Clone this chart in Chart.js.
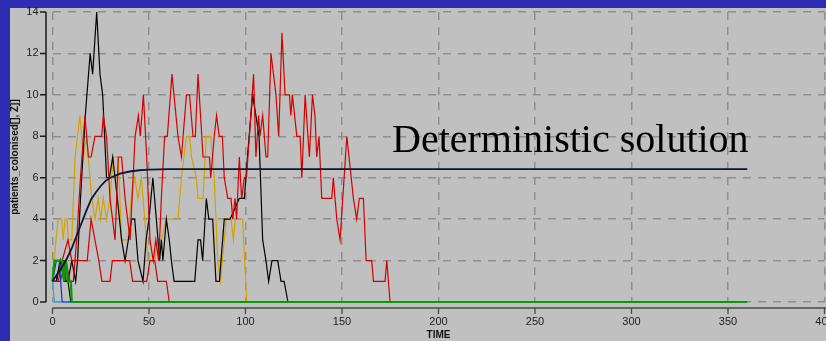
<!DOCTYPE html>
<html>
<head>
<meta charset="utf-8">
<script src="https://cdn.jsdelivr.net/npm/chart.js@4/dist/chart.umd.min.js"></script>
<style>
  html, body { margin: 0; padding: 0; background: #2d2db4; }
  #wrap { width: 826px; height: 341px; position: relative; }
</style>
</head>
<body>
<div id="wrap"><canvas id="simChart"></canvas></div>
<script>
// time axis ticks
const timeTicks = [0, 50, 100, 150, 200, 250, 300, 350, 400];
const countTicks = [0, 2, 4, 6, 8, 10, 12, 14];

// deterministic (ODE) solution
const detT = [0, 2.5, 5, 7.5, 10, 12.5, 15, 17.5, 20, 22.5, 25, 27.5, 30, 35, 40, 45, 50, 60, 360];
const detV = [1, 1.35, 1.7, 2.1, 2.6, 3.2, 3.8, 4.4, 4.95, 5.3, 5.6, 5.85, 6.0, 6.2, 6.3, 6.36, 6.39, 6.41, 6.41];

// stochastic runs
const redLongT = [0, 4, 7, 9, 10.8, 12.5, 14.5, 16.8, 18.6, 20, 22, 25.5, 26.3, 28, 29.8, 32.4, 34.1, 35.8, 37.6, 40.2,
  42.8, 44.5, 45.5, 47.1, 48.8, 50.5, 52.2, 53.5, 55, 56.4, 58.1, 59.5, 61.9, 65, 66.8, 69.4, 71, 72.8, 74, 75.4,
  78, 81.3, 82, 83.8, 85, 86.4, 88, 89, 90.8, 92.5, 93.4, 94.6, 95.4, 96.8, 98, 99.4, 100.5, 102, 104.2, 105.4,
  106.8, 107.5, 108.9, 110.6, 111.5, 113.2, 115.8, 117.2, 118.9, 120.5, 122.8, 123.5, 124.3, 126.6, 128.3, 129.2,
  130.9, 133.1, 134.7, 136, 136.9, 138.1, 139.5, 144.7, 145.5, 147.3, 149, 152.5, 155.9, 157.6, 159, 161.1, 162.5,
  165.4, 166.3, 172.3, 173.2, 174.9];
const redLongV = [1, 1, 2, 1, 1, 3, 6, 9, 7, 7, 8, 8, 9, 8, 5, 3, 7, 7, 5, 3,
  8, 9, 8, 10, 7, 3, 2, 3, 2, 5, 8, 8, 11, 8, 7, 10, 10, 8, 8, 11,
  7, 7, 6, 8, 9, 8, 8, 6, 5, 5, 4, 5, 4, 7, 5, 6, 6, 8, 11, 7,
  9, 8, 9, 7, 7, 12, 10, 8, 13, 10, 10, 9, 10, 8, 8, 6,
  10, 7, 10, 9, 7, 8, 5, 5, 6, 4, 3, 8, 5, 4, 5, 5, 2,
  2, 1, 1, 2, 0];

const redShortT = [0, 3, 5, 8, 10, 18, 20, 22, 24, 25.6, 29.8, 31, 40, 41.5, 48.8, 50.5, 53, 54.5, 59, 60.5];
const redShortV = [1, 1, 2, 3, 2, 2, 4, 3, 2, 1, 1, 2, 2, 1, 1, 2, 2, 1, 1, 0];

const blackLongT = [0, 2, 4, 6, 8, 10, 12, 13, 14.5, 17, 19.5, 20.8, 22.9, 24.6, 26, 28, 29.5, 31.2, 33.6, 35.8,
  37.6, 39.3, 41, 42.6, 44.3, 46.9, 48.5, 50, 52, 53.8, 55.5, 56.4, 57.2, 59, 60.5, 61.6, 63, 73.7, 75.4, 76.7,
  77.8, 79.7, 81, 83, 84.7, 86.5, 87.3, 89, 92, 96.8, 99.4, 101, 103.7, 105.4, 107, 108.9, 110.6, 112, 113.7,
  116.7, 118.4, 120, 122];
const blackLongV = [1, 1, 2, 1, 1, 2, 1, 2, 5, 9, 12, 11, 14, 11, 10, 6, 6, 7, 5, 3,
  2, 3, 4, 4, 2, 1, 3, 4, 6, 4, 2, 3, 2, 4, 3, 2, 1, 1, 3, 3,
  2, 5, 4, 4, 1, 1, 2, 4, 4, 5, 5, 7, 10, 9, 8, 3, 2, 1, 2,
  2, 1, 1, 0];

const blackShortT = [0, 2, 4, 6, 7, 8, 9.5];
const blackShortV = [1, 1, 2, 2, 1, 1, 0];

const yellowT = [0, 1.8, 3, 4.7, 5.6, 6.5, 7.5, 8.2, 10, 11.7, 14.2, 16, 17.7, 19.4, 20.3, 22, 23.7, 25, 26.3, 28,
  29.8, 31.5, 34, 35.8, 37.5, 39.1, 40.8, 42.6, 44.3, 46, 47.8, 49.5, 52.9, 54.5, 56.4, 59, 65, 66.8, 69.4, 71,
  72, 74.5, 75.4, 78, 79.7, 82, 83.8, 85.6, 87, 89, 90, 92.5, 93.7, 94.7, 98.5, 100.6];
const yellowV = [1, 3, 4, 4, 3, 4, 4, 3, 3, 7, 9, 7, 8, 6, 5, 4, 5, 4, 5, 4,
  5, 7, 7, 3, 3, 3, 5, 6, 5, 6, 4, 2, 2, 3, 3, 4, 4, 6, 8, 8,
  7, 6, 5, 5, 8, 8, 6, 2, 1, 3, 4, 4, 3, 4, 4, 0];

const greenT = [0, 1, 5, 6, 7, 8, 9.5, 10, 360];
const greenV = [1, 2, 2, 1, 2, 1, 1, 0, 0];

const blueT = [0, 2, 3.5, 5, 10];
const blueV = [1, 2, 2, 0, 0];

const cyanT = [0, 1, 10];
const cyanV = [1, 0, 0];

function pts(ts, vs) {
  return ts.map((t, i) => ({ x: t, y: vs[i] }));
}

function run(data, color, width) {
  return {
    data: data,
    borderColor: color,
    borderWidth: width,
    pointRadius: 0,
    tension: 0,
    fill: false,
    clip: 4
  };
}

// paints the blue frame and the grey panel behind the plot
const panelBg = {
  id: 'panelBg',
  beforeDraw(chart) {
    const ctx = chart.ctx;
    ctx.save();
    ctx.fillStyle = '#2d2db4';
    ctx.fillRect(0, 0, chart.width, chart.height);
    ctx.fillStyle = '#c0c0c0';
    ctx.fillRect(10, 8, chart.width - 10, chart.height - 8);
    ctx.restore();
  }
};

// axis lines sit a few pixels away from the plot area, with outside ticks
const detachedAxes = {
  id: 'detachedAxes',
  afterDraw(chart) {
    const ctx = chart.ctx;
    const area = chart.chartArea;
    const xs = chart.scales.x;
    const ys = chart.scales.y;
    ctx.save();
    // y axis
    const ax = area.left - 6.5;
    ctx.strokeStyle = '#1a1a1a';
    ctx.lineWidth = 1.5;
    ctx.beginPath();
    ctx.moveTo(ax, area.top);
    ctx.lineTo(ax, area.bottom);
    ys.ticks.forEach(t => {
      const py = ys.getPixelForValue(t.value);
      ctx.moveTo(ax - 6, py);
      ctx.lineTo(ax, py);
    });
    ctx.stroke();
    // x axis
    const ay = area.bottom + 6;
    ctx.strokeStyle = '#4a4a4a';
    ctx.lineWidth = 1.3;
    ctx.beginPath();
    ctx.moveTo(area.left, ay);
    ctx.lineTo(chart.width, ay);
    xs.ticks.forEach(t => {
      const px = xs.getPixelForValue(t.value);
      ctx.moveTo(px, ay);
      ctx.lineTo(px, ay + 6);
    });
    ctx.stroke();
    ctx.restore();
  }
};

// caption for the smooth curve
const curveCaption = {
  id: 'curveCaption',
  afterDatasetsDraw(chart) {
    const ctx = chart.ctx;
    ctx.save();
    ctx.fillStyle = '#000';
    ctx.font = '40px "Liberation Serif", "Times New Roman", serif';
    ctx.textBaseline = 'alphabetic';
    ctx.textAlign = 'left';
    ctx.fillText('Deterministic solution', 392, 152);
    ctx.restore();
  }
};

function noPad(scale) {
  scale.paddingLeft = 0;
  scale.paddingRight = 0;
  scale.paddingTop = 0;
  scale.paddingBottom = 0;
}

const ctx = document.getElementById('simChart').getContext('2d');
new Chart(ctx, {
  type: 'line',
  data: {
    datasets: [
      run(pts(detT, detV), '#0e1630', 1.8),
      run(pts(greenT, greenV), '#00a000', 2.2),
      run(pts(blueT, blueV), '#1030c8', 1.2),
      run(pts(cyanT, cyanV), '#2aa0e6', 1.2),
      run(pts(redLongT, redLongV), '#d40000', 1.2),
      run(pts(redShortT, redShortV), '#d40000', 1.2),
      run(pts(blackLongT, blackLongV), '#000000', 1.2),
      run(pts(blackShortT, blackShortV), '#000000', 1.2),
      run(pts(yellowT, yellowV), '#d2a400', 1.2)
    ]
  },
  options: {
    responsive: true,
    maintainAspectRatio: false,
    animation: false,
    layout: { padding: { top: 12, right: 1.5, left: 0, bottom: 0 } },
    plugins: {
      legend: { display: false },
      tooltip: { enabled: false }
    },
    scales: {
      x: {
        type: 'linear',
        min: 0,
        max: 400,
        afterBuildTicks(scale) {
          scale.ticks = timeTicks.map(v => ({ value: v }));
        },
        afterFit(scale) {
          scale.height = 39;
          noPad(scale);
        },
        ticks: {
          padding: 13,
          maxRotation: 0,
          autoSkip: false,
          color: '#222',
          font: { family: '"Liberation Sans", Arial, sans-serif', size: 11 }
        },
        grid: { color: '#8f8f8f', lineWidth: 1.5, drawTicks: false },
        border: { display: false, dash: [8, 7] },
        title: {
          display: true,
          text: 'TIME',
          color: '#111',
          padding: 0,
          font: { family: '"Liberation Sans", Arial, sans-serif', size: 10, weight: 'bold' }
        }
      },
      y: {
        min: 0,
        max: 14,
        afterBuildTicks(scale) {
          scale.ticks = countTicks.map(v => ({ value: v }));
        },
        afterFit(scale) {
          scale.width = 52.5;
          noPad(scale);
        },
        ticks: {
          padding: 14,
          color: '#222',
          font: { family: '"Liberation Sans", Arial, sans-serif', size: 11 }
        },
        grid: { color: '#8f8f8f', lineWidth: 1.5, drawTicks: false },
        border: { display: false, dash: [8, 7] },
        title: {
          display: true,
          text: 'patients_colonised[], Z]]',
          color: '#111',
          padding: { top: 9, bottom: 0 },
          font: { family: '"Liberation Sans", Arial, sans-serif', size: 10, weight: 'bold' }
        }
      }
    }
  },
  plugins: [panelBg, detachedAxes, curveCaption]
});
</script>
</body>
</html>
